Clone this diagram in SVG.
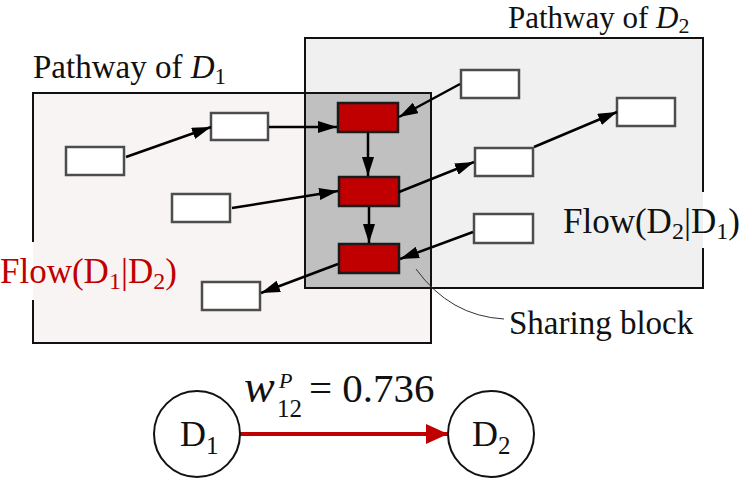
<svg xmlns="http://www.w3.org/2000/svg" width="742" height="478" viewBox="0 0 742 478">
<defs>
<style>
.t{font-family:"Liberation Serif","Times New Roman",serif;fill:#111}
.wn{fill:#fff;stroke:#4d4d4d;stroke-width:2.5}
.rn{fill:#c00000;stroke:#1a1a1a;stroke-width:2.5}
.ed{fill:none;stroke:#000;stroke-width:2.5;marker-end:url(#ah)}
.bd{fill:none;stroke:#111;stroke-width:2}
</style>
<marker id="ah" markerUnits="userSpaceOnUse" markerWidth="19" markerHeight="12" refX="19" refY="6" orient="auto">
<path d="M0,0 L19,6 L0,12 z" fill="#000"/>
</marker>
<marker id="rah" markerUnits="userSpaceOnUse" markerWidth="22" markerHeight="20" refX="22" refY="10" orient="auto">
<path d="M0,0 L22,10 L0,20 z" fill="#c00000"/>
</marker>
</defs>

<g id="pathway-d1">
<rect x="33" y="93" width="398" height="250" fill="#f7f4f3"/>
<path class="bd" d="M33,242 V93 H431 V343 H33 V300"/>
<text class="t" x="33" y="78" font-size="33">Pathway of <tspan font-style="italic">D</tspan><tspan font-size="23" dy="6">1</tspan></text>
</g>

<g id="pathway-d2">
<rect x="305" y="38" width="398" height="250" fill="#f0f0f0"/>
<path class="bd" d="M703,192 V38 H305 V288 H703 V248"/>
<text class="t" x="508" y="28" font-size="31">Pathway of <tspan font-style="italic">D</tspan><tspan font-size="22" dy="5">2</tspan></text>
</g>

<g id="sharing-block">
<rect x="305" y="93" width="126" height="195" fill="#c0c0c0" stroke="#111" stroke-width="2"/>
<path d="M416,269 Q450,316 504,319" fill="none" stroke="#333" stroke-width="1"/>
<text class="t" x="509" y="334" font-size="33">Sharing block</text>
</g>

<g id="flow-d1-d2">
<text x="0" y="283" font-family="Liberation Serif, serif" font-size="35" fill="#c00000">Flow(D<tspan font-size="24" dy="6">1</tspan><tspan dy="-6">|D</tspan><tspan font-size="24" dy="6">2</tspan><tspan dy="-6">)</tspan></text>
</g>
<g id="flow-d2-d1">
<text class="t" x="563" y="233" font-size="35">Flow(D<tspan font-size="24" dy="6">2</tspan><tspan dy="-6">|D</tspan><tspan font-size="24" dy="6">1</tspan><tspan dy="-6">)</tspan></text>
</g>

<g id="n-a"><rect class="wn" x="66" y="147" width="58" height="28"/></g>
<g id="n-b"><rect class="wn" x="211" y="113" width="57" height="27"/></g>
<g id="n-c"><rect class="wn" x="172" y="194" width="58" height="28"/></g>
<g id="n-e"><rect class="wn" x="461" y="70" width="58" height="28"/></g>
<g id="n-f"><rect class="wn" x="617" y="98" width="58" height="28"/></g>
<g id="n-g"><rect class="wn" x="475" y="148" width="58" height="28"/></g>
<g id="n-h"><rect class="wn" x="474" y="214" width="59" height="29"/></g>
<g id="n-i"><rect class="wn" x="202" y="282" width="58" height="28"/></g>
<g id="r-1"><rect class="rn" x="338" y="103" width="60" height="29"/></g>
<g id="r-2"><rect class="rn" x="339" y="177" width="60" height="29"/></g>
<g id="r-3"><rect class="rn" x="339" y="244" width="60" height="29"/></g>

<g id="connectors">
<path class="ed" d="M126,157 L211,127"/>
<path class="ed" d="M269,127 L337,127"/>
<path class="ed" d="M232,208 L338,191"/>
<path class="ed" d="M460,84 L399,117"/>
<path class="ed" d="M399,192 L474,162"/>
<path class="ed" d="M534,147 L617,112"/>
<path class="ed" d="M473,232 L400,259"/>
<path class="ed" d="M338,264 L261,293"/>
<path class="ed" d="M368,133 L368,176"/>
<path class="ed" d="M369,207 L369,243"/>
<path d="M240,434 L448,434" fill="none" stroke="#c00000" stroke-width="4" marker-end="url(#rah)"/>
</g>

<g id="node-d1">
<circle cx="197" cy="434" r="43" fill="#fff" stroke="#111" stroke-width="2"/>
<text class="t" x="180" y="446" font-size="36">D<tspan font-size="25" dy="8">1</tspan></text>
</g>
<g id="node-d2">
<circle cx="491" cy="434" r="43" fill="#fff" stroke="#111" stroke-width="2"/>
<text class="t" x="472" y="446" font-size="36">D<tspan font-size="25" dy="8">2</tspan></text>
</g>

<g id="weight-label">
<text class="t" x="244" y="402" font-size="46" font-style="italic">w</text>
<text class="t" x="279" y="388" font-size="22" font-style="italic">P</text>
<text class="t" x="277" y="417" font-size="25">12</text>
<text class="t" x="309" y="402" font-size="41">= 0.736</text>
</g>
</svg>
